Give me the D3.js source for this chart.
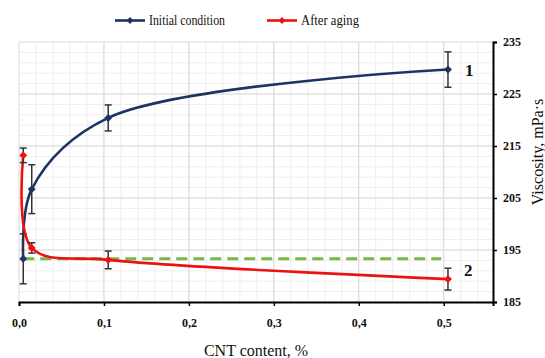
<!DOCTYPE html>
<html lang="en">
<head>
<meta charset="UTF-8">
<title>Viscosity vs CNT content</title>
<script src="https://d3js.org/d3.v7.min.js"></script>
<style>
  body { margin: 0; background: #fff; }
  svg, svg text { font-family: "Liberation Serif", "Times New Roman", serif; }
  svg { display: block; }
</style>
</head>
<body>
<svg width="545" height="358"></svg>
<script>
// CNT content (%) of the measured samples
const cntContent = [0.005, 0.015, 0.105, 0.505];
// series 1 - initial condition
const initialVisc = [193.3, 206.7, 220.4, 229.7];
const initialErr = [4.8, 4.7, 2.5, 3.4];
// series 2 - after aging
const agedVisc = [213.2, 195.4, 193.1, 189.4];
const agedErr = [1.4, 1.0, 1.7, 2.1];
// dashed reference level (base fluid)
const refLevel = 193.3;
const refRange = [0.005, 0.497];

const xTicks = [0, 0.1, 0.2, 0.3, 0.4, 0.5];
const yTicks = [185, 195, 205, 215, 225, 235];

const svg = d3.select("svg");
const x = d3.scaleLinear().domain([0, 0.558]).range([19, 493]);
const y = d3.scaleLinear().domain([185, 235]).range([302, 42]);

const navy = "#1c3461";
const red = "#ee1111";
const green = "#7ab648";

// grid
const grid = svg.append("g");
grid.selectAll("line.vminor")
  .data(d3.range(0.02, 0.558, 0.02))
  .enter().append("line")
  .attr("x1", d => x(d)).attr("x2", d => x(d))
  .attr("y1", y(235)).attr("y2", y(185))
  .attr("stroke", "#eeeeee").attr("stroke-width", 1);
grid.selectAll("line.hminor")
  .data(d3.range(187, 235, 2))
  .enter().append("line")
  .attr("x1", x(0)).attr("x2", x(0.558))
  .attr("y1", d => y(d)).attr("y2", d => y(d))
  .attr("stroke", "#eeeeee").attr("stroke-width", 1);
grid.selectAll("line.vmajor")
  .data(xTicks)
  .enter().append("line")
  .attr("x1", d => x(d)).attr("x2", d => x(d))
  .attr("y1", y(235)).attr("y2", y(185))
  .attr("stroke", "#d9d9d9").attr("stroke-width", 1);
grid.selectAll("line.hmajor")
  .data(yTicks)
  .enter().append("line")
  .attr("x1", x(0)).attr("x2", x(0.558))
  .attr("y1", d => y(d)).attr("y2", d => y(d))
  .attr("stroke", "#d9d9d9").attr("stroke-width", 1);

// x axis
const xAxis = svg.append("g")
  .attr("transform", `translate(0,${y(185)})`)
  .call(d3.axisBottom(x).tickValues(xTicks).tickSize(4).tickPadding(12)
    .tickFormat(d => d3.format(".1f")(d).replace(".", ",")));
xAxis.select(".domain").attr("stroke", "#000").attr("stroke-width", 2);
xAxis.selectAll(".tick line").attr("stroke", "#000").attr("stroke-width", 1.5);
xAxis.selectAll("text").attr("font-size", 12).attr("font-weight", "bold")
  .attr("font-family", "Liberation Serif").attr("fill", "#111");

// y axis (right)
const yAxis = svg.append("g")
  .attr("transform", `translate(${x(0.558)},0)`)
  .call(d3.axisRight(y).tickValues(yTicks).tickSize(4).tickPadding(6));
yAxis.select(".domain").attr("stroke", "#000").attr("stroke-width", 2);
yAxis.selectAll(".tick line").attr("stroke", "#000").attr("stroke-width", 1.5);
yAxis.selectAll("text").attr("font-size", 12).attr("font-weight", "bold")
  .attr("font-family", "Liberation Serif").attr("fill", "#111");

// dashed reference line
svg.append("line")
  .attr("x1", x(refRange[0])).attr("x2", x(refRange[1]))
  .attr("y1", y(refLevel)).attr("y2", y(refLevel))
  .attr("stroke", green).attr("stroke-width", 3)
  .attr("stroke-dasharray", "11,6");

const line = d3.line()
  .x(d => x(d.x)).y(d => y(d.y))
  .curve(d3.curveCatmullRom.alpha(0.5));

function drawSeries(values, errs, color) {
  const data = cntContent.map((c, i) => ({ x: c, y: values[i], e: errs[i] }));
  svg.append("path").datum(data)
    .attr("d", line)
    .attr("fill", "none").attr("stroke", color).attr("stroke-width", 2.6);

  // error bars
  const eb = svg.append("g").attr("stroke", "#333").attr("stroke-width", 1.5);
  eb.selectAll("line.v").data(data).enter().append("line")
    .attr("x1", d => x(d.x)).attr("x2", d => x(d.x))
    .attr("y1", d => y(d.y - d.e)).attr("y2", d => y(d.y + d.e));
  eb.selectAll("line.top").data(data).enter().append("line")
    .attr("x1", d => x(d.x) - 3.5).attr("x2", d => x(d.x) + 3.5)
    .attr("y1", d => y(d.y + d.e)).attr("y2", d => y(d.y + d.e));
  eb.selectAll("line.bot").data(data).enter().append("line")
    .attr("x1", d => x(d.x) - 3.5).attr("x2", d => x(d.x) + 3.5)
    .attr("y1", d => y(d.y - d.e)).attr("y2", d => y(d.y - d.e));

  // diamond markers
  svg.append("g").selectAll("path").data(data).enter().append("path")
    .attr("d", d3.symbol(d3.symbolDiamond2, 40))
    .attr("transform", d => `translate(${x(d.x)},${y(d.y)})`)
    .attr("fill", color);
}

drawSeries(initialVisc, initialErr, navy);
drawSeries(agedVisc, agedErr, red);

// curve numbers
svg.append("text").attr("x", x(0.505) + 17).attr("y", y(initialVisc[3]) + 6)
  .attr("font-size", 17).attr("font-weight", "bold").attr("fill", "#111").text("1");
svg.append("text").attr("x", x(0.505) + 16).attr("y", y(agedVisc[3]) - 3)
  .attr("font-size", 17).attr("font-weight", "bold").attr("fill", "#111").text("2");

// legend
const legend = [
  { label: "Initial condition", color: navy, x0: 115, w: 76 },
  { label: "After aging", color: red, x0: 267, w: 58 }
];
legend.forEach(l => {
  svg.append("line")
    .attr("x1", l.x0).attr("x2", l.x0 + 30).attr("y1", 20.5).attr("y2", 20.5)
    .attr("stroke", l.color).attr("stroke-width", 2.6);
  svg.append("path")
    .attr("d", d3.symbol(d3.symbolDiamond2, 30))
    .attr("transform", `translate(${l.x0 + 15},20.5)`)
    .attr("fill", l.color);
  svg.append("text")
    .attr("x", l.x0 + 34).attr("y", 24.5)
    .attr("font-size", 14.5).attr("fill", "#111")
    .attr("textLength", l.w).attr("lengthAdjust", "spacingAndGlyphs")
    .text(l.label);
});

// axis titles
svg.append("text")
  .attr("x", 256).attr("y", 356)
  .attr("text-anchor", "middle").attr("font-size", 16).attr("fill", "#111")
  .text("CNT content, %");
svg.append("text")
  .attr("transform", "translate(543,152) rotate(-90)")
  .attr("text-anchor", "middle").attr("font-size", 16).attr("fill", "#111")
  .text("Viscosity, mPa·s");
</script>
</body>
</html>
